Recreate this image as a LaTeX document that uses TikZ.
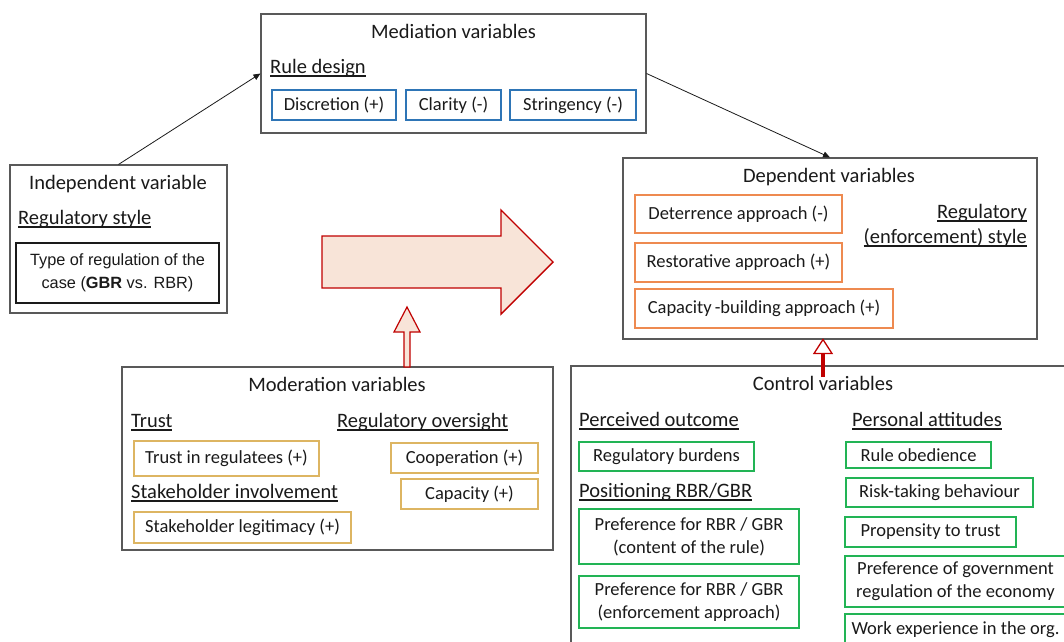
\documentclass[tikz,border=0pt]{standalone}
\usepackage{fontspec}
\setmainfont{Carlito}
\newfontfamily\arialfam{Liberation Sans}
\usetikzlibrary{arrows.meta}

\definecolor{framegray}{HTML}{595959}
\definecolor{inkblack}{HTML}{1A1A1A}
\definecolor{medblue}{HTML}{2E75B6}
\definecolor{deporange}{HTML}{EE8A50}
\definecolor{modgold}{HTML}{DDB562}
\definecolor{ctrlgreen}{HTML}{22B455}
\definecolor{arrowred}{HTML}{C00000}
\definecolor{arrowfill}{HTML}{F8E4D8}

\newcommand\hsz{\fontsize{20.5pt}{24pt}\selectfont}
\newcommand\bsz{\fontsize{18.5pt}{23pt}\selectfont}
\newsavebox\ulbox
\newcommand\ulh[1]{\sbox\ulbox{#1}\rlap{\rule[-3.6pt]{\wd\ulbox}{1.2pt}}\usebox\ulbox}

\tikzset{
  frame/.style={draw=framegray, line width=1.1pt, inner sep=0pt, fill=white},
  varbox/.style={draw=#1, line width=1.8pt, inner sep=0pt, font=\bsz, align=center, text=inkblack},
  title/.style={font=\hsz, anchor=base, inner sep=0pt, text=inkblack},
  head/.style={font=\hsz, anchor=base west, inner sep=0pt, text=inkblack},
  conn/.style={draw=inkblack, line width=0.8pt, -{Triangle[length=7pt,width=6pt]}},
  bigarrow/.style={draw=arrowred, line width=1.4pt, fill=arrowfill, line join=miter},
}

\begin{document}
\begin{tikzpicture}[x=1pt,y=-1pt]
\useasboundingbox (0,0) rectangle (1064,641);
\clip (0,0) rectangle (1064,641);

% ---------- Mediation variables ----------
\node[frame, minimum width=385pt, minimum height=119pt] (med) at (453.5,73.5) {};
\node[title] (medT) at (453.5,38) {Mediation variables};
\node[head] (medH) at (270,73) {\ulh{Rule design}};
\node[varbox=medblue, minimum width=124pt, minimum height=30pt] (discr) at (334,105) {Discretion (+)};
\node[varbox=medblue, minimum width=95pt, minimum height=30pt] (clar) at (453.5,105) {Clarity (-)};
\node[varbox=medblue, minimum width=126pt, minimum height=30pt] (string) at (573,105) {Stringency (-)};

% ---------- Independent variable ----------
\node[frame, minimum width=217pt, minimum height=148pt] (ind) at (118.5,239) {};
\node[title] (indT) at (118,189) {Independent variable};
\node[head] (indH) at (18,224) {\ulh{Regulatory style}};
\node[draw=inkblack, line width=1.8pt, inner sep=0pt, minimum width=203pt, minimum height=60pt,
      align=center, font=\arialfam\fontsize{16.3pt}{23pt}\selectfont, text=inkblack]
      (ruletype) at (117.5,273) {Type of regulation of the\\case (\textbf{GBR} vs. RBR)};

% ---------- Dependent variables ----------
\node[frame, minimum width=414pt, minimum height=181pt] (dep) at (830,248.5) {};
\node[title] (depT) at (829,182) {Dependent variables};
\node[varbox=deporange, minimum width=207pt, minimum height=38pt] (deter) at (738.5,214) {Deterrence approach (-)};
\node[varbox=deporange, minimum width=207pt, minimum height=39pt] (resto) at (738.5,262.5) {Restorative approach (+)};
\node[varbox=deporange, minimum width=258pt, minimum height=39pt] (capb) at (764,308.5) {Capacity\,-building approach (+)};
\node[head, anchor=base east] (depH1) at (1027,218) {\ulh{Regulatory}};
\node[head, anchor=base east] (depH2) at (1027,243) {\ulh{(enforcement) style}};

% ---------- Moderation variables ----------
\node[frame, minimum width=431pt, minimum height=183pt] (mod) at (337.5,458.5) {};
\node[title] (modT) at (337,391) {Moderation variables};
\node[head] (modH1) at (131,427) {\ulh{Trust}};
\node[head] (modH2) at (337,427) {\ulh{Regulatory oversight}};
\node[head] (modH3) at (131,498) {\ulh{Stakeholder involvement}};
\node[varbox=modgold, minimum width=185pt, minimum height=35pt] (trustreg) at (226.5,458.5) {Trust in regulatees (+)};
\node[varbox=modgold, minimum width=217pt, minimum height=31pt] (stakeleg) at (242.5,527.5) {Stakeholder legitimacy (+)};
\node[varbox=modgold, minimum width=147pt, minimum height=30pt] (coop) at (464.5,458) {Cooperation (+)};
\node[varbox=modgold, minimum width=137pt, minimum height=30pt] (capac) at (469.5,494) {Capacity (+)};

% ---------- Control variables ----------
\node[frame, minimum width=504pt, minimum height=284pt] (ctrl) at (823,508) {};
\node[title] (ctrlT) at (823,390) {Control variables};
\node[head] (ctrlH1) at (579,426) {\ulh{Perceived outcome}};
\node[head] (ctrlH2) at (579,497) {\ulh{Positioning RBR/GBR}};
\node[head] (ctrlH3) at (852,426) {\ulh{Personal attitudes}};
\node[varbox=ctrlgreen, minimum width=175pt, minimum height=29pt] (burden) at (666.5,456.5) {Regulatory burdens};
\node[varbox=ctrlgreen, minimum width=220pt, minimum height=55pt] (prefcont) at (689,536.5) {Preference for RBR / GBR\\(content of the rule)};
\node[varbox=ctrlgreen, minimum width=220pt, minimum height=52pt] (prefenf) at (689,602) {Preference for RBR / GBR\\(enforcement approach)};
\node[varbox=ctrlgreen, minimum width=145pt, minimum height=26pt] (obed) at (918.5,455) {Rule obedience};
\node[varbox=ctrlgreen, minimum width=187pt, minimum height=29pt] (risk) at (939.5,492.5) {Risk-taking behaviour};
\node[varbox=ctrlgreen, minimum width=171pt, minimum height=30pt] (propen) at (930.5,532) {Propensity to trust};
\node[varbox=ctrlgreen, minimum width=221pt, minimum height=51pt] (prefgov) at (955.5,581.5) {Preference of government\\regulation of the economy};
\node[varbox=ctrlgreen, minimum width=221pt, minimum height=32pt] (workexp) at (955.5,630) {Work experience in the org.};

% ---------- Connectors ----------
\draw[conn] (ind.north) -- (med.west);
\draw[conn] (med.east) -- (dep.north);

% main effect arrow
\draw[bigarrow] (322,236) -- (501,236) -- (501,210) -- (553,262) -- (501,314) -- (501,288) -- (322,288) -- cycle;

% moderation arrow (hollow, pointing up)
\coordinate (modfoot) at (407,367);
\draw[bigarrow, line width=1.2pt] ([xshift=-3pt]modfoot) -- ++(0,-35) -- ++(-10,0) -- (407,307)
      -- (420,332) -- ([xshift=3pt]modfoot |- 0,332) -- ([xshift=3pt]modfoot) -- cycle;

% control arrow
\coordinate (ctrlfoot) at (823,377);
\coordinate (ctrltip) at (823,339.5);
\draw[draw=arrowred, line width=3.4pt] (ctrlfoot) -- (823,352);
\draw[draw=arrowred, line width=1.3pt, fill=white, line join=miter] (ctrltip) -- (832,353.5) -- (814,353.5) -- cycle;
\end{tikzpicture}
\end{document}
